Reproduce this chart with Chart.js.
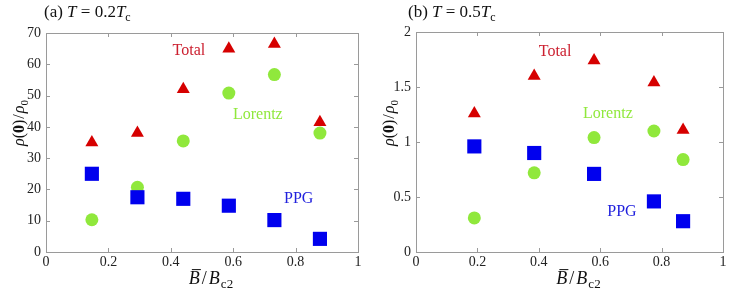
<!DOCTYPE html>
<html>
<head>
<meta charset="utf-8">
<script src="https://cdn.jsdelivr.net/npm/chart.js@4.4.1/dist/chart.umd.min.js"></script>
<style>
  html, body { margin: 0; padding: 0; background: #fff; }
  #wrap { position: relative; width: 747px; height: 295px; }
  .panel { position: absolute; top: 0; height: 295px; }
</style>
</head>
<body>
<div id="wrap">
  <div class="panel" style="left:0;width:370px"><canvas id="chartA"></canvas></div>
  <div class="panel" style="left:370px;width:377px"><canvas id="chartB"></canvas></div>
</div>
<script>
// ---- data ----
// panel (a): T = 0.2 Tc
const fieldA = [0.147, 0.293, 0.44, 0.586, 0.732, 0.878];
const totalA = [35, 38, 52, 65, 66.5, 41.5];
const lorentzA = [10.3, 20.7, 35.5, 50.8, 56.7, 38];
const ppgA = [25, 17.5, 17, 14.8, 10.2, 4.2];

// panel (b): T = 0.5 Tc
const fieldB = [0.19, 0.385, 0.58, 0.775, 0.87];
const totalB = [1.26, 1.6, 1.74, 1.54, 1.11];
const lorentzB = [0.31, 0.72, 1.04, 1.1, 0.84];
const ppgB = [0.96, 0.9, 0.71, 0.46, 0.28];

const xTicks = [0, 0.2, 0.4, 0.6, 0.8, 1];

const RED = '#d60000';
const GREEN = '#90e83c';
const BLUE = '#0000ee';
const SERIF = '"Liberation Serif", "DejaVu Serif", serif';

function pts(xs, ys) {
  return xs.map((x, i) => ({ x: x, y: ys[i] }));
}

// tick text like 0, 0.5, 1 (no trailing .0)
function plainNum(v) {
  return String(Math.round(v * 100) / 100);
}

// draws a run of text pieces: {t, f:'n'|'i'|'b', sub, bar, gap}
function drawRich(ctx, parts, x, y, size, color, align) {
  const fontFor = (p) => {
    const s = p.sub ? Math.round(size * 0.7) : size;
    const st = p.f === 'i' ? 'italic ' : (p.f === 'b' ? 'bold ' : '');
    return st + s + 'px ' + SERIF;
  };
  const widthOf = (p) => {
    if (p.gap) return p.gap;
    ctx.font = fontFor(p);
    return ctx.measureText(p.t).width;
  };
  let total = 0;
  parts.forEach(p => { total += widthOf(p); });
  let cx = align === 'center' ? x - total / 2 : x;
  ctx.fillStyle = color;
  ctx.strokeStyle = color;
  ctx.textBaseline = 'alphabetic';
  ctx.textAlign = 'left';
  parts.forEach(p => {
    const w = widthOf(p);
    if (!p.gap) {
      ctx.font = fontFor(p);
      ctx.fillText(p.t, cx, p.sub ? y + size * 0.22 : y);
      if (p.bar) {
        ctx.lineWidth = 1;
        ctx.beginPath();
        ctx.moveTo(cx + 3, y - size * 0.8);
        ctx.lineTo(cx + w + 1, y - size * 0.8);
        ctx.stroke();
      }
    }
    cx += w;
  });
}

// box frame with inward ticks on all four sides
const framePlugin = {
  id: 'frame',
  beforeDatasetsDraw(chart) {
    const { ctx, chartArea: a, scales } = chart;
    ctx.save();
    ctx.strokeStyle = '#9a9a9a';
    ctx.lineWidth = 1;
    ctx.strokeRect(Math.round(a.left) + 0.5, Math.round(a.top) + 0.5,
      Math.round(a.right - a.left), Math.round(a.bottom - a.top));
    ctx.beginPath();
    scales.x.ticks.forEach(t => {
      const px = Math.round(scales.x.getPixelForValue(t.value)) + 0.5;
      ctx.moveTo(px, a.bottom); ctx.lineTo(px, a.bottom - 4);
      ctx.moveTo(px, a.top); ctx.lineTo(px, a.top + 4);
    });
    scales.y.ticks.forEach(t => {
      const py = Math.round(scales.y.getPixelForValue(t.value)) + 0.5;
      ctx.moveTo(a.left, py); ctx.lineTo(a.left + 4, py);
      ctx.moveTo(a.right, py); ctx.lineTo(a.right - 4, py);
    });
    ctx.stroke();
    ctx.restore();
  },
  afterDraw(chart) {
    const o = chart.options.plugins.frame;
    const { ctx, chartArea: a, scales } = chart;
    ctx.save();
    // panel title
    drawRich(ctx, o.title, o.titleX, 17, 17, '#111', 'left');
    // series labels placed in data coordinates
    o.labels.forEach(l => {
      ctx.font = '16px ' + SERIF;
      ctx.fillStyle = l.color;
      ctx.textAlign = 'center';
      ctx.textBaseline = 'middle';
      ctx.fillText(l.text, scales.x.getPixelForValue(l.x), scales.y.getPixelForValue(l.y));
    });
    // x axis title
    drawRich(ctx, [
      { t: 'B', f: 'i', bar: true }, { gap: 2 }, { t: '/', f: 'n' }, { gap: 2 },
      { t: 'B', f: 'i' }, { gap: 1 }, { t: 'c2', f: 'n', sub: true }
    ], (a.left + a.right) / 2 + 9, 284, 18, '#111', 'center');
    // y axis title
    ctx.translate(24, 123);
    ctx.rotate(-Math.PI / 2);
    drawRich(ctx, [
      { t: 'ρ', f: 'i' }, { t: '(', f: 'n' }, { t: '0', f: 'b' }, { t: ')', f: 'n' },
      { gap: 1 }, { t: '/', f: 'n' }, { gap: 1 }, { t: 'ρ', f: 'i' }, { t: '0', f: 'n', sub: true }
    ], 0, 0, 16, '#111', 'center');
    ctx.restore();
  }
};

function makeChart(id, xs, tot, lor, ppg, yMax, yStep, rightPad, topPad, title, titleX, labels) {
  new Chart(document.getElementById(id), {
    type: 'scatter',
    data: {
      datasets: [
        { label: 'PPG', data: pts(xs, ppg), pointStyle: 'rect', pointRadius: 10,
          pointBackgroundColor: BLUE, pointBorderWidth: 0 },
        { label: 'Lorentz', data: pts(xs, lor), pointStyle: 'circle', pointRadius: 6.5,
          pointBackgroundColor: GREEN, pointBorderWidth: 0 },
        { label: 'Total', data: pts(xs, tot), pointStyle: 'triangle', pointRadius: 7.5,
          pointBackgroundColor: RED, pointBorderWidth: 0 }
      ]
    },
    options: {
      responsive: true,
      maintainAspectRatio: false,
      animation: false,
      layout: { padding: { left: 0, top: topPad, right: rightPad, bottom: 0 } },
      plugins: {
        legend: { display: false },
        tooltip: { enabled: false },
        frame: { title: title, titleX: titleX, labels: labels }
      },
      scales: {
        x: {
          type: 'linear', min: 0, max: 1,
          afterBuildTicks: s => { s.ticks = xTicks.map(v => ({ value: v })); },
          grid: { display: false, drawTicks: false },
          border: { display: false },
          ticks: { color: '#222', padding: 2, font: { family: SERIF, size: 14 }, callback: plainNum },
          afterFit: s => { s.height = 43; }
        },
        y: {
          type: 'linear', min: 0, max: yMax,
          ticks: { stepSize: yStep, color: '#222', padding: 5, font: { family: SERIF, size: 14 }, callback: plainNum },
          grid: { display: false, drawTicks: false },
          border: { display: false },
          afterFit: s => { s.width = 46; }
        }
      }
    },
    plugins: [framePlugin]
  });
}

makeChart('chartA', fieldA, totalA, lorentzA, ppgA, 70, 10, 12, 33,
  [{ t: '(a) ', f: 'n' }, { t: 'T', f: 'i' }, { t: ' = 0.2', f: 'n' }, { t: 'T', f: 'i' }, { t: 'c', f: 'n', sub: true }],
  44,
  [
    { text: 'Total', x: 0.458, y: 64.2, color: '#cc2030' },
    { text: 'Lorentz', x: 0.679, y: 44, color: GREEN },
    { text: 'PPG', x: 0.81, y: 17, color: '#2020dd' }
  ]);

makeChart('chartB', fieldB, totalB, lorentzB, ppgB, 2, 0.5, 24, 32,
  [{ t: '(b) ', f: 'n' }, { t: 'T', f: 'i' }, { t: ' = 0.5', f: 'n' }, { t: 'T', f: 'i' }, { t: 'c', f: 'n', sub: true }],
  38,
  [
    { text: 'Total', x: 0.453, y: 1.82, color: '#cc2030' },
    { text: 'Lorentz', x: 0.625, y: 1.26, color: GREEN },
    { text: 'PPG', x: 0.671, y: 0.37, color: '#2020dd' }
  ]);
</script>
</body>
</html>
